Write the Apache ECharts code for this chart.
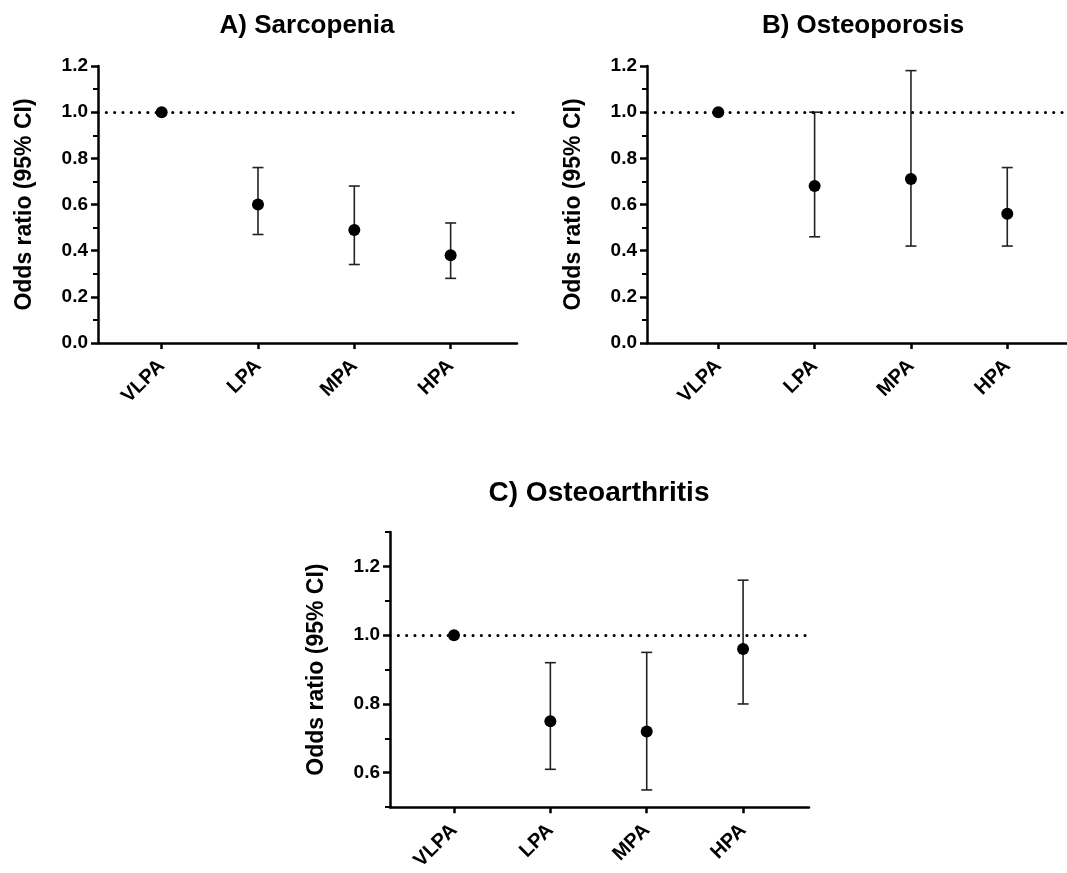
<!DOCTYPE html>
<html>
<head>
<meta charset="utf-8">
<title>Odds ratios by physical activity level</title>
<script src="https://cdn.jsdelivr.net/npm/echarts@6/dist/echarts.min.js"></script>
<style>
  html, body { margin: 0; padding: 0; background: #fff; }
  #chart { width: 1067px; height: 873px; }
</style>
</head>
<body>
<div id="chart"></div>
<script>
// categories and values
const categories = ['VLPA', 'LPA', 'MPA', 'HPA']

const sarcopeniaOR = [1.00, 0.60, 0.49, 0.38]
const sarcopeniaLow = [null, 0.47, 0.34, 0.28]
const sarcopeniaHigh = [null, 0.76, 0.68, 0.52]

const osteoporosisOR = [1.00, 0.68, 0.71, 0.56]
const osteoporosisLow = [null, 0.46, 0.42, 0.42]
const osteoporosisHigh = [null, 1.00, 1.18, 0.76]

const osteoarthritisOR = [1.00, 0.75, 0.72, 0.96]
const osteoarthritisLow = [null, 0.61, 0.55, 0.80]
const osteoarthritisHigh = [null, 0.92, 0.95, 1.16]

const titles = ['A) Sarcopenia', 'B) Osteoporosis', 'C) Osteoarthritis']
const yTicksAB = [0, 0.2, 0.4, 0.6, 0.8, 1.0, 1.2]
const yMinorAB = [0.1, 0.3, 0.5, 0.7, 0.9, 1.1]
const yTicksC = [0.6, 0.8, 1.0, 1.2]
const yMinorC = [0.5, 0.7, 0.9, 1.1, 1.3]
const refValue = 1.0

const FONT = '"Liberation Sans", Arial, sans-serif'
const chart = echarts.init(document.getElementById('chart'))

const catIdx = categories.map((c, i) => i)

const makeX = (gridIndex, min, max) => ({
  type: 'value',
  gridIndex,
  min,
  max,
  splitLine: { show: false },
  axisLine: { show: true, onZero: false, lineStyle: { color: '#000', width: 2.5 } },
  axisTick: { show: true, customValues: catIdx, length: 6, lineStyle: { color: '#000', width: 2.5 } },
  axisLabel: {
    customValues: catIdx,
    formatter: (v) => categories[Math.round(v)] || '',
    rotate: 45,
    margin: 20,
    color: '#000',
    fontFamily: FONT,
    fontWeight: 'bold',
    fontSize: 20
  }
})

const makeY = (gridIndex, min, max, ticks) => ({
  type: 'value',
  gridIndex,
  min,
  max,
  name: 'Odds ratio (95% CI)',
  nameLocation: 'middle',
  nameGap: 62,
  nameTextStyle: { color: '#000', fontFamily: FONT, fontWeight: 'bold', fontSize: 23 },
  splitLine: { show: false },
  axisLine: { show: true, onZero: false, lineStyle: { color: '#000', width: 2.5 } },
  axisTick: { show: true, customValues: ticks, length: 7, lineStyle: { color: '#000', width: 2.5 } },
  axisLabel: {
    customValues: ticks,
    formatter: (v) => v.toFixed(1),
    margin: 10,
    color: '#000',
    fontFamily: FONT,
    fontWeight: 'bold',
    fontSize: 19
  }
})

// second axis on the same grid only for the short in-between ticks
const minorY = (gridIndex, min, max, ticks) => ({
  type: 'value',
  gridIndex,
  min,
  max,
  position: 'left',
  splitLine: { show: false },
  axisLine: { show: false, onZero: false },
  axisTick: { show: true, customValues: ticks, length: 5, lineStyle: { color: '#000', width: 2 } },
  axisLabel: { show: false }
})

const errorSeries = (axisIndex, yIndex, low, high) => ({
  type: 'custom',
  xAxisIndex: axisIndex,
  yAxisIndex: yIndex,
  z: 3,
  silent: true,
  data: catIdx.filter(i => low[i] != null).map(i => [i, low[i], high[i]]),
  renderItem: (params, api) => {
    const top = api.coord([api.value(0), api.value(2)])
    const bot = api.coord([api.value(0), api.value(1)])
    const half = 5.5
    const style = { stroke: '#222', lineWidth: 1.6 }
    return {
      type: 'group',
      children: [
        { type: 'line', shape: { x1: top[0], y1: top[1], x2: bot[0], y2: bot[1] }, style },
        { type: 'line', shape: { x1: top[0] - half, y1: top[1], x2: top[0] + half, y2: top[1] }, style },
        { type: 'line', shape: { x1: bot[0] - half, y1: bot[1], x2: bot[0] + half, y2: bot[1] }, style }
      ]
    }
  }
})

const pointSeries = (axisIndex, yIndex, values) => ({
  type: 'scatter',
  xAxisIndex: axisIndex,
  yAxisIndex: yIndex,
  z: 5,
  symbol: 'circle',
  symbolSize: 12,
  itemStyle: { color: '#000', opacity: 1 },
  data: values.map((v, i) => [i, v]),
  markLine: {
    silent: true,
    symbol: 'none',
    label: { show: false },
    lineStyle: { color: '#000', width: 3, type: [0.1, 8.2], cap: 'round', opacity: 1 },
    data: [{ yAxis: refValue }]
  }
})

const titleStyle = { color: '#000', fontFamily: FONT, fontWeight: 'bold', fontSize: 26 }

chart.setOption({
  animation: false,
  title: [
    { text: titles[0], left: 302, top: 8, textAlign: 'center', textStyle: titleStyle },
    { text: titles[1], left: 858, top: 8, textAlign: 'center', textStyle: titleStyle },
    { text: titles[2], left: 594, top: 474, textAlign: 'center', textStyle: { ...titleStyle, fontSize: 28 } }
  ],
  grid: [
    { left: 98, top: 66, width: 419, height: 277 },
    { left: 647, top: 66, width: 420, height: 277 },
    { left: 390, top: 532, width: 419, height: 276 }
  ],
  xAxis: [
    makeX(0, -0.661, 3.689),
    makeX(1, -0.74, 3.62),
    makeX(2, -0.664, 3.684)
  ],
  yAxis: [
    makeY(0, 0, 1.2, yTicksAB),
    makeY(1, 0, 1.2, yTicksAB),
    makeY(2, 0.5, 1.3, yTicksC),
    minorY(0, 0, 1.2, yMinorAB),
    minorY(1, 0, 1.2, yMinorAB),
    minorY(2, 0.5, 1.3, yMinorC)
  ],
  series: [
    errorSeries(0, 0, sarcopeniaLow, sarcopeniaHigh),
    pointSeries(0, 0, sarcopeniaOR),
    errorSeries(1, 1, osteoporosisLow, osteoporosisHigh),
    pointSeries(1, 1, osteoporosisOR),
    errorSeries(2, 2, osteoarthritisLow, osteoarthritisHigh),
    pointSeries(2, 2, osteoarthritisOR)
  ]
})
</script>
</body>
</html>
